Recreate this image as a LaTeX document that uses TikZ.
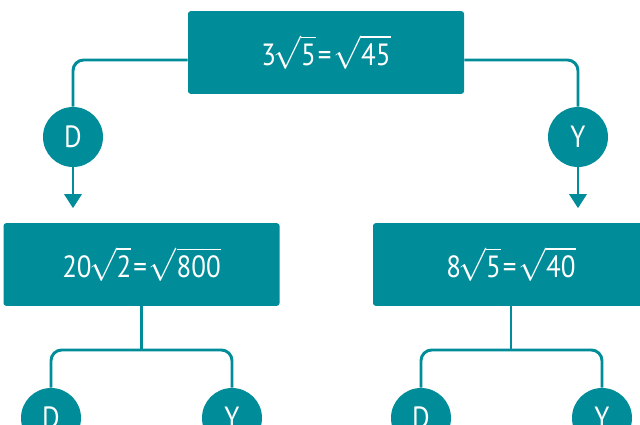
\documentclass[tikz,border=0pt]{standalone}
\usepackage{amsmath}
\usepackage{fontspec}
\setmainfont{PT Sans}[FakeStretch=0.88]
\usetikzlibrary{arrows.meta}
\definecolor{teal}{RGB}{0,140,152}
\begin{document}
\begin{tikzpicture}[x=0.75pt,y=-0.75pt,
    box/.style={fill=teal,text=white,rounded corners=2pt,minimum width=207pt,minimum height=62pt,font=\fontsize{23}{24}\selectfont},
    choice/.style={circle,fill=teal,text=white,minimum size=45pt,inner sep=0pt,font=\fontsize{23}{24}\selectfont},
    link/.style={draw=teal,line width=2.2pt,rounded corners=8pt}]
    \clip (0,0) rectangle (640,425);
    \node [box] (top) at (326,52.5) {3\kern-2pt$\sqrt{\text{5}}$\kern1.5pt=\kern1.5pt$\sqrt{\text{45}}$};
    \node [box] (left) at (141.5,264.5) {20\kern-2pt$\sqrt{\text{2}}$\kern1.5pt=\kern1.5pt$\sqrt{\text{800}}$};
    \node [box] (right) at (511,264.5) {8\kern-2pt$\sqrt{\text{5}}$\kern1.5pt=\kern1.5pt$\sqrt{\text{40}}$};
    \node [choice] (topD) at (73,137) {D};
    \node [choice] (topY) at (578,137) {Y};
    \node [choice] (leftD) at (51,418) {D};
    \node [choice] (leftY) at (232,418) {Y};
    \node [choice] (rightD) at (421,418) {D};
    \node [choice] (rightY) at (602,418) {Y};
    \coordinate (leftjoin) at (141.5,350);
    \coordinate (rightjoin) at (511,350);
    % first split
    \path [link] ([yshift=-5.6pt]top.west) -| (topD.north);
    \path [link] ([yshift=-5.6pt]top.east) -| (topY.north);
    \draw [link,-{Triangle[width=12.75pt,length=10.5pt]},shorten >=11pt] (topD.south) -- (topD.south |- left.north);
    \draw [link,-{Triangle[width=12.75pt,length=10.5pt]},shorten >=11pt] (topY.south) -- (topY.south |- right.north);
    % second split
    \path [link] (left.south) -- (leftjoin);
    \path [link] (leftD.north) |- (leftjoin) -| (leftY.north);
    \path [link] (right.south) -- (rightjoin);
    \path [link] (rightD.north) |- (rightjoin) -| (rightY.north);
\end{tikzpicture}
\end{document}
